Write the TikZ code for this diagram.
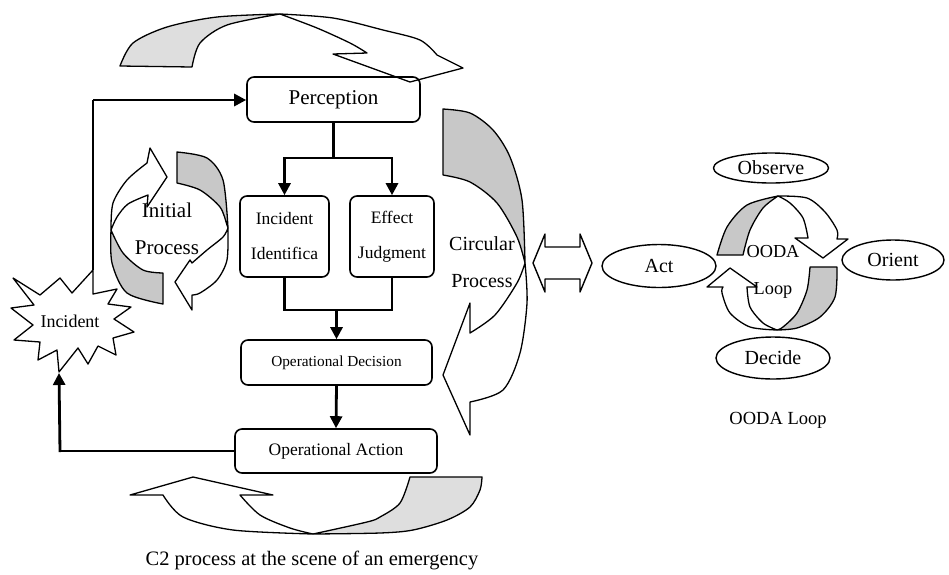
\documentclass[tikz,border=0pt]{standalone}
\usepackage{fontspec}
\setmainfont{Liberation Serif}
\usetikzlibrary{arrows.meta,shapes.geometric}
\definecolor{midg}{RGB}{200,200,200}
\definecolor{lightg}{RGB}{222,222,222}
\tikzset{
  box/.style={draw, line width=1.6pt, rounded corners=7pt, inner sep=0pt, align=center},
  oval/.style={draw, line width=1.4pt, ellipse, inner sep=0pt, font=\fontsize{20}{24}\selectfont},
  conn/.style={line width=2.8pt},
  arr/.style={line width=2.8pt, -{Triangle[length=12pt,width=12pt]}},
  band/.style={line width=1.3pt, line join=round},
  lbl/.style={inner sep=0pt, align=center}
}
\begin{document}
\begin{tikzpicture}[x=1pt,y=-1pt]
\useasboundingbox (0,0) rectangle (949,574);
\fill[white] (0,0) rectangle (949,574);

% ---------- top curved arrow ----------
\filldraw[band, fill=lightg] (120,66) -- plot[smooth] coordinates {(120,66) (133,43) (167,27) (217,17) (280,14)}
  -- plot[smooth] coordinates {(280,14) (227,25) (200,43) (192,67)} -- cycle;
\filldraw[band, fill=white] (280,14) -- plot[smooth] coordinates {(280,14) (333,18) (383,30) (420,40) (437,55)}
  -- (463,68) -- (410,82) -- (333,54) -- (367,53)
  -- plot[smooth] coordinates {(367,53) (350,43) (317,28) (280,14)} -- cycle;

% ---------- right curved arrow (circular process) ----------
\filldraw[band, fill=midg] (443,109) -- plot[smooth] coordinates {(443,109) (470,113) (493,130) (510,157) (522,200) (525,263)}
  -- plot[smooth] coordinates {(525,263) (517,237) (497,203) (470,182) (443,175)} -- cycle;
\filldraw[band, fill=white] (525,263) -- plot[smooth] coordinates {(525,263) (527,303) (520,353) (503,390) (470,402)}
  -- (470,435) -- (443,375) -- (470,303) -- (470,333)
  -- plot[smooth] coordinates {(470,333) (495,315) (517,283) (525,263)} -- cycle;

% ---------- bottom curved arrow ----------
\filldraw[band, fill=lightg] (410,477) -- (482,477)
  -- plot[smooth] coordinates {(482,477) (480,490) (470,507) (447,520) (413,530) (380,533) (313,534)}
  -- plot[smooth] coordinates {(313,534) (367,522) (380,517) (400,503) (410,477)} -- cycle;
\filldraw[band, fill=white] (313,534) -- plot[smooth] coordinates {(313,534) (233,530) (183,517) (163,495)}
  -- (130,495) -- (193,477) -- (273,495) -- (240,495)
  -- plot[smooth] coordinates {(240,495) (260,515) (290,528) (313,534)} -- cycle;

% ---------- initial process arrows ----------
\filldraw[band, fill=midg] (163,304) -- (163,273)
  -- plot[smooth] coordinates {(163,273) (143,270) (123,253) (111,230)}
  -- plot[smooth] coordinates {(111,230) (112,263) (127,293) (163,304)} -- cycle;
\filldraw[band, fill=white] (111,230) -- plot[smooth] coordinates {(111,230) (113,203) (127,180) (147,163)}
  -- (150,148) -- (167,177) -- (147,207) -- (148,195)
  -- plot[smooth] coordinates {(148,195) (128,204) (117,217) (111,230)} -- cycle;
\filldraw[band, fill=midg] (177,152) -- plot[smooth] coordinates {(177,152) (207,158) (223,180) (228,228)}
  -- plot[smooth] coordinates {(228,228) (227,225) (220,207) (200,190) (177,183)} -- cycle;
\filldraw[band, fill=white] (228,228) -- plot[smooth] coordinates {(228,228) (227,260) (217,280) (200,293) (192,295)}
  -- (192,310) -- (175,282) -- (190,260) -- (192,263)
  -- plot[smooth] coordinates {(192,263) (207,250) (223,237) (228,228)} -- cycle;

% ---------- OODA arrows ----------
\filldraw[band, fill=midg] (717,255) -- plot[smooth] coordinates {(717,255) (727,227) (747,205) (778,196)}
  -- plot[smooth] coordinates {(778,196) (763,208) (750,230) (743,255)} -- cycle;
\filldraw[band, fill=white] (778,196) -- plot[smooth] coordinates {(778,196) (807,198) (825,212) (837,230) (837,239)}
  -- (848,239) -- (823,258) -- (795,238) -- (808,238)
  -- plot[smooth] coordinates {(808,238) (803,218) (790,203) (778,196)} -- cycle;
\filldraw[band, fill=midg] (810,267) -- (837,267)
  -- plot[smooth] coordinates {(837,267) (835,297) (820,317) (797,328) (777,330)}
  -- plot[smooth] coordinates {(777,330) (783,327) (797,313) (807,290) (810,267)} -- cycle;
\filldraw[band, fill=white] (777,330) -- plot[smooth] coordinates {(777,330) (750,327) (730,313) (722,293) (723,287)}
  -- (707,287) -- (730,268) -- (757,287) -- (747,287)
  -- plot[smooth] coordinates {(747,287) (750,307) (763,323) (777,330)} -- cycle;

% ---------- double arrow ----------
\draw[band, line width=1.4pt] (533,263) -- (545,234) -- (545,247) -- (580,247) -- (580,234) -- (592,263)
  -- (580,292) -- (580,279) -- (545,279) -- (545,292) -- cycle;

% ---------- incident star ----------
\filldraw[band, fill=white] (13,278) -- (40,295) -- (60,278) -- (72,293) -- (93,270) -- (93,294)
  -- (117,289) -- (108,304) -- (131,307) -- (114,319) -- (134,332) -- (113,338)
  -- (116,355) -- (98,346) -- (88,364) -- (78,348) -- (59,372) -- (57,350)
  -- (38,360) -- (40,342) -- (14,340) -- (33,325) -- (11,308) -- (34,305) -- cycle;
\node[lbl, font=\fontsize{18}{22}\selectfont] (inc) at (70,321) {Incident};
\coordinate (inctop) at (93,270);
\coordinate (incbot) at (59,373);

% ---------- boxes ----------
\node[box, minimum width=173pt, minimum height=45pt, font=\fontsize{21}{25}\selectfont] (perc) at (333.5,99.5) {Perception};
\node[box, minimum width=89pt, minimum height=81pt, font=\fontsize{17.5}{35}\selectfont] (incid) at (284.5,236.5) {Incident\\Identifica};
\node[box, minimum width=84pt, minimum height=81pt, font=\fontsize{17.5}{35}\selectfont] (eff) at (392,236.5) {Effect\\Judgment};
\node[box, minimum width=191pt, minimum height=45pt, font=\fontsize{15.3}{18}\selectfont] (opdec) at (336.5,362.5) {Operational Decision};
\node[box, minimum width=202pt, minimum height=44pt, font=\fontsize{17.5}{21}\selectfont] (opact) at (336,451) {Operational Action};

% ---------- connectors ----------
\coordinate (split) at (333.5,158);
\coordinate (join) at (336.5,310);
\coordinate (lowcorner) at (60,452);
\coordinate (upcorner) at (93,100);
\draw[conn] (perc.south) -- (split);
\draw[arr] (split) -| (incid.north);
\draw[arr] (split) -| (eff.north);
\draw[conn] (incid.south) |- (join);
\draw[conn] (eff.south) |- (join);
\draw[arr] (join) -- (opdec.north);
\draw[arr] (opdec.south) -- (opact.north);
\draw[conn] (opact.west) -- (opact.west -| lowcorner) -- (lowcorner);
\draw[arr] (lowcorner) -- (incbot);
\draw[conn] (inctop) -- (upcorner);
\draw[arr] (upcorner) -- (upcorner -| perc.west);

% ---------- OODA ovals ----------
\node[oval, minimum width=115pt, minimum height=30pt] (obs) at (771,168) {Observe};
\node[oval, minimum width=114pt, minimum height=43pt] (act) at (659,266) {Act};
\node[oval, minimum width=102pt, minimum height=40pt] (ori) at (893,260) {Orient};
\node[oval, minimum width=114pt, minimum height=42pt] (dec) at (773,358) {Decide};

% ---------- labels ----------
\node[lbl, font=\fontsize{21}{37}\selectfont] (initlbl) at (167,229) {Initial\\Process};
\node[lbl, font=\fontsize{20}{37}\selectfont] (circlbl) at (482,262) {Circular\\Process};
\node[lbl, font=\fontsize{18.3}{37}\selectfont] (oodalbl) at (773,272) {OODA\\Loop};
\node[lbl, font=\fontsize{18.5}{22}\selectfont] (oodacap) at (778,420) {OODA Loop};
\node[lbl, font=\fontsize{20.5}{24}\selectfont] (cap) at (312,560) {C2 process at the scene of an emergency};
\end{tikzpicture}
\end{document}
